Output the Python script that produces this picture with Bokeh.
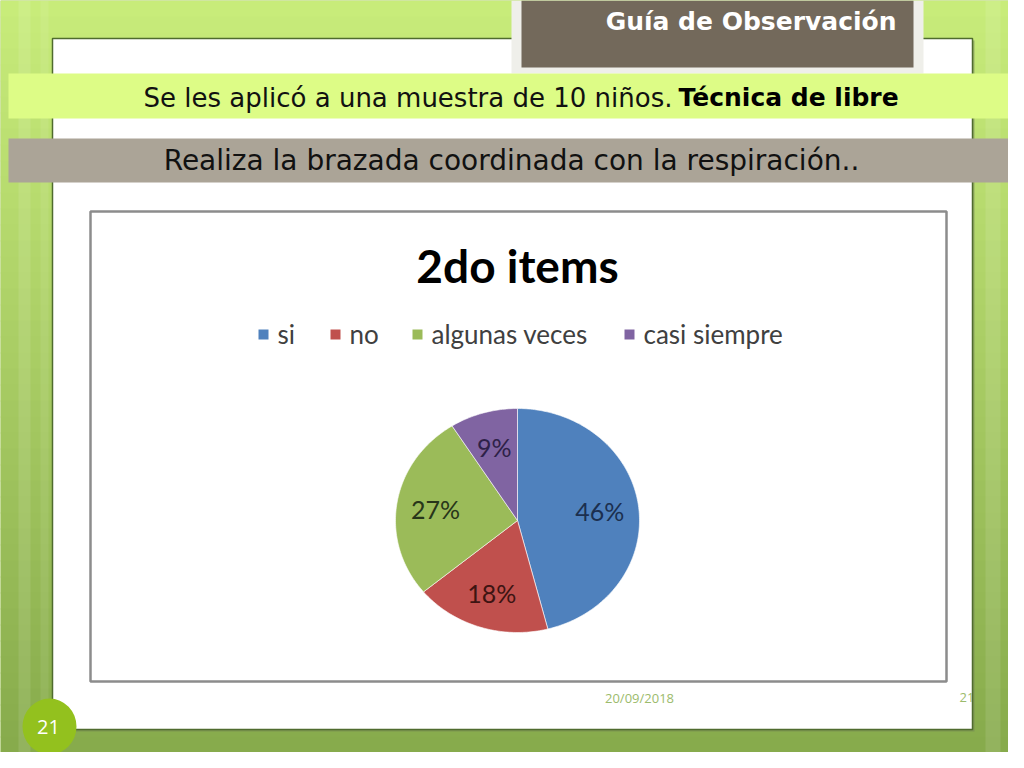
import math
from bokeh.plotting import figure
from bokeh.models import Range1d
from bokeh.core.properties import value
from bokeh.embed import file_html
from bokeh.resources import INLINE

# ---------------- data ----------------
categories = ["si", "no", "algunas veces", "casi siempre"]
percentages = [46, 18, 27, 9]
slice_colors = ["#4f81bd", "#c0504d", "#9bbb59", "#8064a2"]
label_colors = ["#1b2f4f", "#3d1412", "#28361a", "#2e2148"]

chart_title = "2do items"
slide_title = "Guía de Observación"
line1_normal = "Se les aplicó a una muestra de 10 niños."
line1_bold = "Técnica de libre"
line2 = "Realiza la brazada coordinada con la respiración.."
date_text = "20/09/2018"
page_no = "21"

# ---------------- figure ----------------
W, H = 1008, 752
p = figure(width=W, height=H, output_backend="svg", toolbar_location=None,
           x_range=Range1d(0, W), y_range=Range1d(H, 0),
           x_axis_type=None, y_axis_type=None, min_border=0)
p.grid.visible = False
p.outline_line_color = None
p.background_fill_color = "#a8cc60"
p.border_fill_color = "#a8cc60"

# background gradient (decorative)
top_c = (200, 236, 122)
bot_c = (134, 170, 76)
n = 48
for i in range(n):
    t = i / (n - 1)
    c = tuple(int(top_c[k] + (bot_c[k] - top_c[k]) * t) for k in range(3))
    y0 = i * 768 / n
    p.quad(left=0, right=1024, top=y0, bottom=y0 + 768 / n + 1,
           fill_color="#%02x%02x%02x" % c, line_color=None)
# subtle light stripes
for (l, r, a) in [(18, 30, 0.10), (40, 48, 0.08), (985, 1000, 0.10)]:
    p.quad(left=l, right=r, top=0, bottom=768, fill_color="white", fill_alpha=a, line_color=None)

# white panel
p.quad(left=53, right=974, top=40, bottom=731, fill_color="#6f7f55", fill_alpha=0.5, line_color=None)
p.quad(left=52, right=972, top=38, bottom=729, fill_color="white", line_color="#4f6b2e", line_width=1.5)

# title box
p.quad(left=511, right=923, top=0, bottom=73, fill_color="#efefea", line_color=None)
p.quad(left=521, right=913, top=0, bottom=67, fill_color="#73695b", line_color=None)
p.text(x=[896], y=[21], text=[slide_title], text_align="right", text_baseline="middle",
       text_color="white", text_font=value("DejaVu Sans"), text_font_style="bold",
       text_font_size="25px")

# bands
p.quad(left=8, right=1012, top=73, bottom=118, fill_color="#ddfc86", line_color=None)
p.text(x=[672], y=[97], text=[line1_normal], text_align="right", text_baseline="middle",
       text_color="#111111", text_font=value("DejaVu Sans"), text_font_size="26px")
p.text(x=[678], y=[97], text=[line1_bold], text_align="left", text_baseline="middle",
       text_color="#000000", text_font=value("DejaVu Sans"), text_font_style="bold",
       text_font_size="25px")

p.quad(left=8, right=1012, top=138, bottom=182, fill_color="#aba497", line_color=None)
p.text(x=[511], y=[160], text=[line2], text_align="center", text_baseline="middle",
       text_color="#111111", text_font=value("DejaVu Sans"), text_font_size="28px")

# chart frame
p.quad(left=90, right=946, top=211, bottom=681, fill_color="white", line_color="#8c8c8c", line_width=2.5)
p.text(x=[517], y=[265], text=[chart_title], text_align="center", text_baseline="middle",
       text_color="#000000", text_font=value("Lato"), text_font_style="bold",
       text_font_size="46px")

# legend (layout)
leg_sq_x = [263, 335, 417, 629]
leg_y = 334
p.rect(x=leg_sq_x, y=[leg_y] * 4, width=10, height=10, fill_color=slice_colors, line_color=None)
p.text(x=[x + 14 for x in leg_sq_x], y=[leg_y - 1] * 4, text=categories, text_align="left",
       text_baseline="middle", text_color="#404040", text_font=value("Lato"),
       text_font_size="26px")

# pie (elliptical, drawn from data)
cx, cy, rx, ry = 517, 520, 122, 112
total = sum(percentages)
start = 90.0
xs, ys, lx, ly = [], [], [], []
for v in percentages:
    sweep = 360.0 * v / total
    end = start - sweep
    steps = max(8, int(sweep))
    px, py = [cx], [cy]
    for s in range(steps + 1):
        a = math.radians(start + (end - start) * s / steps)
        px.append(cx + rx * math.cos(a))
        py.append(cy - ry * math.sin(a))
    xs.append(px)
    ys.append(py)
    mid = math.radians((start + end) / 2)
    lx.append(cx + 0.68 * rx * math.cos(mid))
    ly.append(cy - 0.68 * ry * math.sin(mid))
    start = end
p.patches(xs=xs, ys=ys, fill_color=slice_colors, line_color="white", line_alpha=0.6, line_width=1)
p.text(x=lx, y=ly, text=["%d%%" % v for v in percentages], text_align="center",
       text_baseline="middle", text_color=label_colors, text_font=value("Lato"),
       text_font_size="25px")

# footer
p.text(x=[639], y=[697], text=[date_text], text_align="center", text_baseline="middle",
       text_color="#9cbb6c", text_font=value("Open Sans"), text_font_size="13px")
p.text(x=[959], y=[697], text=[page_no], text_align="left", text_baseline="middle",
       text_color="#9cbb6c", text_font=value("Open Sans"), text_font_size="13px")

# page badge
p.ellipse(x=[49], y=[726], width=54, height=56, fill_color="#93c11e", line_color=None)
p.text(x=[48], y=[726], text=[page_no], text_align="center", text_baseline="middle",
       text_color="white", text_font=value("Open Sans"), text_font_size="20px")

open("out.html", "w").write(file_html(p, INLINE))
